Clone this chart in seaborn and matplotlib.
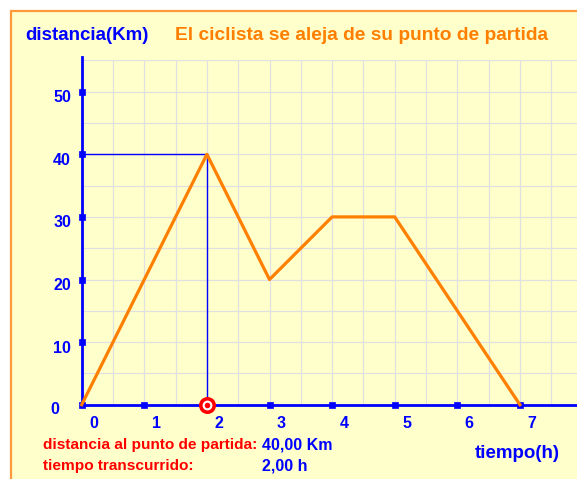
import numpy as np
import pandas as pd
import seaborn as sns
import matplotlib.pyplot as plt
from matplotlib.patches import Rectangle

# data
tiempo = [0, 2, 3, 4, 5, 7]
distancia = [0, 40, 20, 30, 30, 0]
x_ticks = [0, 1, 2, 3, 4, 5, 6, 7]
y_ticks = [10, 20, 30, 40, 50]
t_sel = 2
d_sel = 40

W, H = 577, 479
X0, Y0 = 81.7, 404.7          # pixel position of the origin
PX_X, PX_Y = 62.6, 6.26       # pixels per hour / per km

plt.rcParams['font.family'] = ['Liberation Sans', 'DejaVu Sans']
BLUE = '#0000FF'
ORANGE = '#FF7F00'
RED = '#FF0000'

fig = plt.figure(figsize=(W / 100, H / 100), dpi=100)

# yellow panel with orange border on top/left
fig.patches.append(Rectangle((10.5 / W, -0.1), 1.2, (H - 10.5) / H + 0.1,
                             transform=fig.transFigure, facecolor='#FFFFCC',
                             edgecolor='#FF9A3C', linewidth=1.6, zorder=-1))

ax = fig.add_axes([X0 / W, (H - Y0) / H, (W - X0) / W, (Y0 - 60) / H])
ax.set_xlim(0, (W - X0) / PX_X)
ax.set_ylim(0, (Y0 - 60) / PX_Y)
ax.set_facecolor('none')
for s in ax.spines.values():
    s.set_visible(False)

# grid every half hour / 5 km
ax.set_xticks(np.arange(0.5, 8, 0.5))
ax.set_yticks(np.arange(5, 56, 5))
ax.tick_params(length=0, labelbottom=False, labelleft=False)
ax.grid(True, color='#E0E0E0', linewidth=0.9)
ax.set_axisbelow(True)

# axes
ax.plot([0, 8], [0, 0], color=BLUE, lw=2.0, clip_on=False, zorder=3)
ax.plot([0, 0], [0, 55.5], color=BLUE, lw=2.0, clip_on=False, zorder=3)

# guide lines to the selected point
ax.plot([0, t_sel], [d_sel, d_sel], color=BLUE, lw=1.0, zorder=3)
ax.plot([t_sel, t_sel], [0, d_sel], color=BLUE, lw=1.0, zorder=3)

# tick markers
tick_df = pd.DataFrame({'x': [t for t in x_ticks if t != t_sel] + [0] * len(y_ticks),
                        'y': [0] * (len(x_ticks) - 1) + y_ticks})
sns.scatterplot(data=tick_df, x='x', y='y', marker='s', s=20, color=BLUE,
                edgecolor=BLUE, linewidth=0.5, clip_on=False, zorder=4, ax=ax)

# trajectory
sns.lineplot(x=tiempo, y=distancia, sort=False, color=ORANGE, lw=2.3,
             clip_on=False, zorder=5, ax=ax)

# selected point marker
ax.scatter([t_sel], [0], s=150, color=RED, zorder=6, clip_on=False, linewidths=0)
ax.scatter([t_sel], [0], s=50, color='white', zorder=7, clip_on=False, linewidths=0)
ax.scatter([t_sel], [0], s=16, color=RED, zorder=8, clip_on=False, linewidths=0)
ax.set_xlabel('')
ax.set_ylabel('')


def ptext(x, y, s, **kw):
    fig.text(x / W, 1 - y / H, s, fontweight='bold', va='center', **kw)


FS = 13.5
for t in x_ticks:
    ptext(X0 + PX_X * t + 12, 423, str(t), color=BLUE, fontsize=11.5, ha='center')
for d in y_ticks:
    ptext(71, Y0 - PX_Y * d + 6, str(d), color=BLUE, fontsize=11.5, ha='right')
ptext(55, 410, '0', color=BLUE, fontsize=11.5, ha='center')

ptext(25, 36, 'distancia(Km)', color=BLUE, fontsize=FS, ha='left')
ptext(175, 36, 'El ciclista se aleja de su punto de partida', color=ORANGE, fontsize=13.8, ha='left')
ptext(475, 454, 'tiempo(h)', color=BLUE, fontsize=FS, ha='left')
ptext(43, 445, 'distancia al punto de partida:', color=RED, fontsize=11.1, ha='left')
ptext(43, 466, 'tiempo transcurrido:', color=RED, fontsize=11.1, ha='left')
ptext(262, 445, f'{d_sel:.2f}'.replace('.', ',') + ' Km', color=BLUE, fontsize=11.5, ha='left')
ptext(262, 466, f'{t_sel:.2f}'.replace('.', ',') + ' h', color=BLUE, fontsize=11.5, ha='left')

fig.savefig('out.png', dpi=100)
